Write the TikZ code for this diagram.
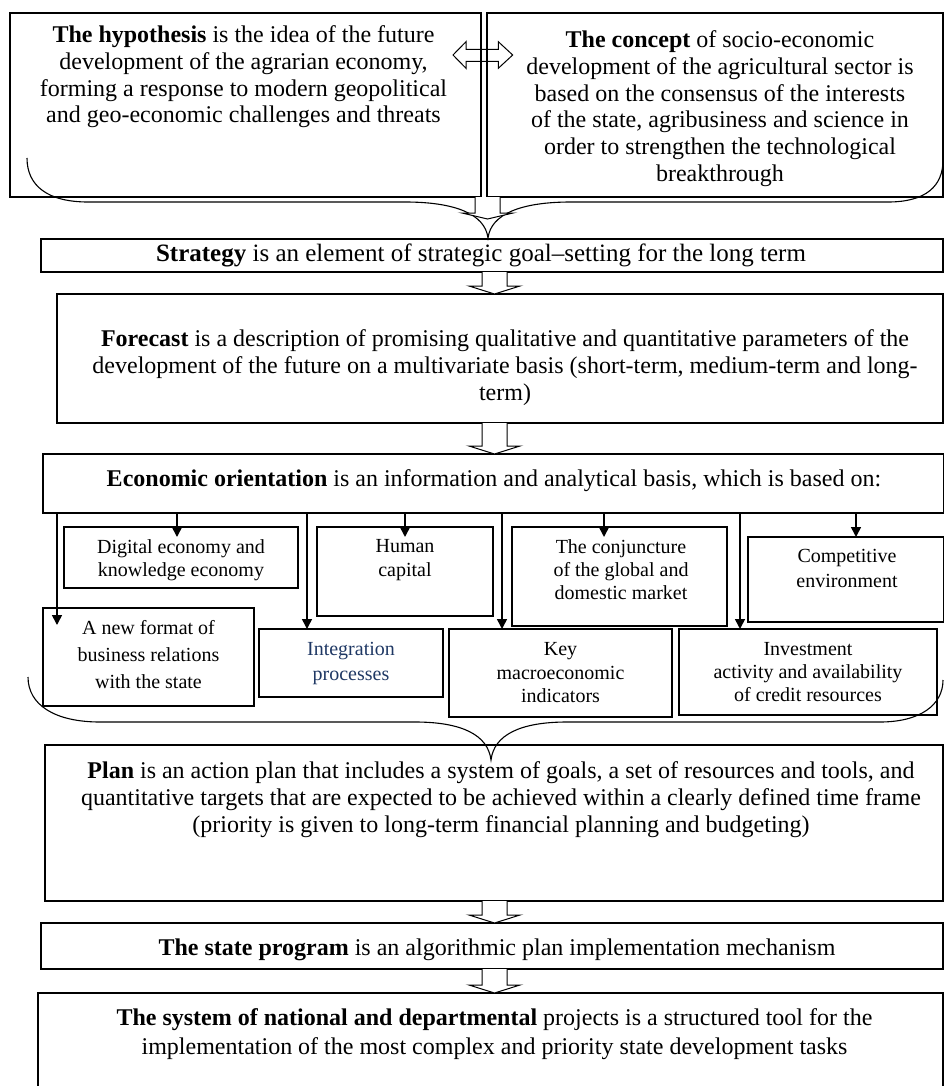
\documentclass[tikz,border=0pt]{standalone}
\usepackage{fontspec}
\setmainfont{Liberation Serif}
\usetikzlibrary{arrows.meta,calc}
\definecolor{navy}{RGB}{31,56,100}
\tikzset{
  bx/.style={draw=black, line width=1.1pt, inner sep=0pt, outer sep=0pt, anchor=north west},
  bigtxt/.style={font=\fontsize{24}{26.8}\selectfont, align=center, inner sep=0pt, anchor=north},
  smalltxt/.style={font=\fontsize{20}{23.5}\selectfont, align=center, inner sep=0pt, anchor=north},
  arr/.style={line width=1.6pt, -{Triangle[width=10pt,length=10pt]}},
  hollow/.style={draw=black, fill=white, line width=1pt, line join=miter},
  bracecurve/.style={draw=black, line width=1.1pt},
}
\newcommand\hollowdn[4]{%
  \draw[hollow] let \p1=(#1 |- #2.south), \p2=(#1 |- #3.north) in
    (\x1-12.5pt,\y1) -- (\x1-12.5pt,\y2+#4) -- (\x1-25.5pt,\y2+#4) -- (\x1,\y2)
    -- (\x1+25.5pt,\y2+#4) -- (\x1+12.5pt,\y2+#4) -- (\x1+12.5pt,\y1);}
\begin{document}
\begin{tikzpicture}[x=1pt,y=-1pt]
\useasboundingbox (0,0) rectangle (944,1086);
\clip (0,0) rectangle (944,1086);

% double hollow arrow between the two top boxes
\draw[hollow, fill=none] (453,55) -- (466,41.7) -- (466,49.3) -- (498.3,49.3) -- (498.3,41.7)
  -- (512.7,55) -- (498.3,68.3) -- (498.3,61.3) -- (466,61.3) -- (466,68.3) -- cycle;

% boxes
\node[bx, minimum width=471pt, minimum height=184pt] (hyp) at (10,13) {};
\node[bx, minimum width=456pt, minimum height=184pt] (concept) at (487,13) {};
\node[bx, minimum width=902pt, minimum height=33pt] (strategy) at (41,239) {};
\node[bx, minimum width=886pt, minimum height=129pt] (forecast) at (57,294) {};
\node[bx, minimum width=901pt, minimum height=59pt] (eco) at (43,454) {};
\node[bx, minimum width=234pt, minimum height=61pt] (digital) at (64,527) {};
\node[bx, minimum width=176pt, minimum height=89pt] (human) at (317,527) {};
\node[bx, minimum width=215pt, minimum height=99pt] (conj) at (512,527) {};
\node[bx, minimum width=196pt, minimum height=85pt] (compet) at (748,537) {};
\node[bx, minimum width=211pt, minimum height=98pt] (newf) at (43,608) {};
\node[bx, minimum width=184pt, minimum height=68pt] (integ) at (259,629) {};
\node[bx, minimum width=223pt, minimum height=88pt] (keym) at (449,629) {};
\node[bx, minimum width=258pt, minimum height=86pt] (invest) at (679,629) {};
\node[bx, minimum width=898pt, minimum height=156pt] (plan) at (45,745) {};
\node[bx, minimum width=902pt, minimum height=46pt] (state) at (41,923) {};
\node[bx, minimum width=905pt, minimum height=100pt] (system) at (38,993) {};

% texts
\node[bigtxt] (hyptext) at (243.5,25.4) {\textbf{The hypothesis} is the idea of the future\\development of the agrarian economy,\\forming a response to modern geopolitical\\and geo-economic challenges and threats};
\node[bigtxt] (concepttext) at (720,30.4) {\textbf{The concept} of socio-economic\\development of the agricultural sector is\\based on the consensus of the interests\\of the state, agribusiness and science in\\order to strengthen the technological\\breakthrough};
\node[bigtxt, font=\fontsize{25}{28}\selectfont] (strategytext) at (481,244) {\textbf{Strategy} is an element of strategic goal--setting for the long term};
\node[bigtxt] (forecasttext) at (505,329.4) {\textbf{Forecast} is a description of promising qualitative and quantitative parameters of the\\development of the future on a multivariate basis (short-term, medium-term and long-\\term)};
\node[bigtxt] (ecotext) at (494,469.4) {\textbf{Economic orientation} is an information and analytical basis, which is based on:};
\node[smalltxt] (digitaltext) at (181,539.2) {Digital economy and\\knowledge economy};
\node[smalltxt, font=\fontsize{20}{24}\selectfont] (humantext) at (405,539.2) {Human\\capital};
\node[smalltxt, font=\fontsize{20}{23}\selectfont] (conjtext) at (621,539.2) {The conjuncture\\of the global and\\domestic market};
\node[smalltxt, font=\fontsize{20}{24.5}\selectfont] (compettext) at (847,549.2) {Competitive\\environment};
\node[smalltxt, font=\fontsize{20}{27}\selectfont] (newftext) at (148.5,620.2) {A new format of\\business relations\\with the state};
\node[smalltxt, font=\fontsize{20}{25}\selectfont, text=navy] (integtext) at (351,642.2) {Integration\\processes};
\node[smalltxt] (keymtext) at (560.5,642.2) {Key\\macroeconomic\\indicators};
\node[smalltxt, font=\fontsize{20}{23}\selectfont] (investtext) at (808,642.2) {Investment\\activity and availability\\of credit resources};
\node[bigtxt] (plantext) at (501,761.4) {\textbf{Plan} is an action plan that includes a system of goals, a set of resources and tools, and\\quantitative targets that are expected to be achieved within a clearly defined time frame\\(priority is given to long-term financial planning and budgeting)};
\node[bigtxt] (statetext) at (497,938.4) {\textbf{The state program} is an algorithmic plan implementation mechanism};
\node[bigtxt, font=\fontsize{24}{28.5}\selectfont] (systemtext) at (494.5,1008.4) {\textbf{The system of national and departmental} projects is a structured tool for the\\implementation of the most complex and priority state development tasks};

% braces
\draw[bracecurve] (27,158) .. controls (27,186) and (48,202) .. (88,202) -- (405,202)
  .. controls (455,202) and (485,214) .. (488,238)
  .. controls (491,214) and (521,202) .. (571,202) -- (888,202)
  .. controls (926,202) and (943,186) .. (943,160);
\draw[bracecurve] (28,677) .. controls (28,705) and (55,722) .. (100,722) -- (415,722)
  .. controls (462,722) and (488,735) .. (491,760)
  .. controls (494,735) and (520,722) .. (567,722) -- (880,722)
  .. controls (920,722) and (943,705) .. (943,680);

% top hollow arrow
\coordinate (toptip) at (487.5,219);
\draw[hollow] let \p1=(toptip |- hyp.south), \p2=(toptip) in
  (\x1-12.5pt,\y1) -- (\x1-12.5pt,\y2+6pt) -- (\x1-25.5pt,\y2+6pt) -- (\x2,\y2)
  -- (\x1+25.5pt,\y2+6pt) -- (\x1+12.5pt,\y2+6pt) -- (\x1+12.5pt,\y1);

% hollow arrows between the stacked boxes
\coordinate (mid) at (494.5,0);
\hollowdn{mid}{strategy}{forecast}{8pt}
\hollowdn{mid}{forecast}{eco}{8pt}
\hollowdn{mid}{plan}{state}{8pt}
\hollowdn{mid}{state}{system}{8pt}

% arrows from economic orientation
\foreach \xx/\nm in {57/a1,177/a2,307/a3,405/a4,502/a5,604/a6,740/a7,856/a8}
  \coordinate (\nm) at (\xx,0);
\draw[arr] (a1 |- eco.south) -- ([yshift=-17pt]newf.north -| a1);
\draw[arr] (a2 |- eco.south) -- ([yshift=-10pt]digital.north -| a2);
\draw[arr] (a3 |- eco.south) -- (integ.north -| a3);
\draw[arr] (a4 |- eco.south) -- ([yshift=-10pt]human.north -| a4);
\draw[arr] (a5 |- eco.south) -- (keym.north -| a5);
\draw[arr] (a6 |- eco.south) -- ([yshift=-10pt]conj.north -| a6);
\draw[arr] (a7 |- eco.south) -- (invest.north -| a7);
\draw[arr] (a8 |- eco.south) -- (compet.north -| a8);
\end{tikzpicture}
\end{document}
